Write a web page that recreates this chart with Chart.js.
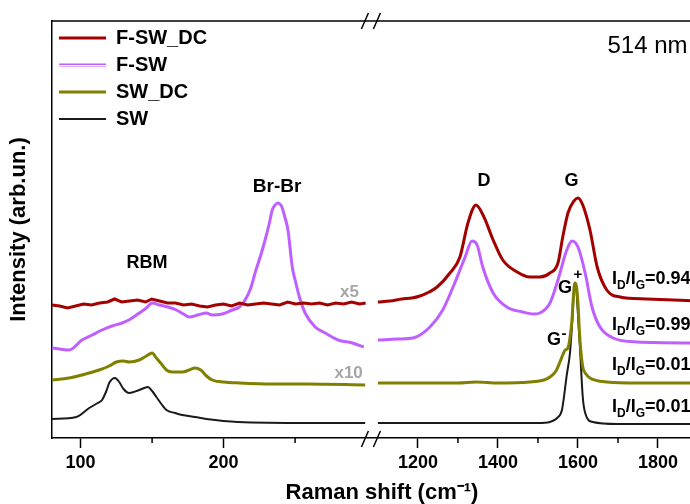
<!DOCTYPE html>
<html>
<head>
<meta charset="utf-8">
<script src="https://cdn.jsdelivr.net/npm/chart.js@4.4.1/dist/chart.umd.min.js"></script>
<style>
  html, body { margin: 0; padding: 0; background: #fff; overflow: hidden; width: 690px; height: 504px; }
  #wrap { width: 720px; height: 504px; }
</style>
</head>
<body>
<div id="wrap"><canvas id="raman" width="720" height="504"></canvas></div>
<script>
// Raman shift (cm-1) and intensity (arb. units)
const fswdcShift = [80, 85.3, 90.9, 96.5, 102.1, 107.7, 113.3, 118.9, 123.8, 128.7, 134.3, 139.9, 145.5, 149.7, 155.2, 160.8, 166.4, 172, 177.6, 183.2,
  188.8, 194.4, 200, 205.6, 211.2, 216.8, 222.4, 228, 233.6, 239.2, 244.8, 250.3, 255.9, 261.5, 267.1, 272.7, 278.3, 283.9, 289.5, 295.1, 299.3,
  1100, 1130, 1160, 1185, 1205, 1228, 1248, 1280, 1305, 1325, 1345, 1365, 1388, 1412, 1448, 1480, 1505, 1530, 1550, 1562, 1575, 1590, 1600,
  1612, 1630, 1648, 1672, 1705, 1772, 1900];
const fswdcInt = [133, 132, 130, 132, 134, 133, 135, 136, 139, 136, 137, 138, 136, 139, 137, 135, 135, 133, 134, 132,
  131, 133, 134, 132, 135, 133, 134, 135, 134, 133, 136, 134, 135, 134, 135, 133, 135, 134, 136, 134, 135,
  136, 137, 139, 140, 142, 146, 151, 165, 181, 215, 233, 221, 198, 178, 166, 161, 161, 165, 175, 201, 225, 237, 240,
  233, 208, 171, 148, 141, 139, 137];

const fswShift = [80, 92, 101, 108, 115, 122, 129, 135, 141, 146, 150, 155, 161, 167, 172, 176, 182, 188, 192, 199,
  206, 211, 215, 219, 222, 226, 229, 232, 234, 236, 238, 240, 241, 243, 245, 248, 250, 253, 257, 264, 271, 280, 290, 298,
  1100, 1150, 1188, 1230, 1262, 1292, 1318, 1335, 1348, 1362, 1388, 1422, 1462, 1490, 1505, 1530, 1550, 1572, 1585, 1600,
  1618, 1635, 1655, 1688, 1748, 1900];
const fswInt = [90, 88, 98, 103, 108, 112, 115, 119, 125, 130, 135, 133, 131, 128, 124, 121, 123, 125, 123, 124,
  128, 131, 138, 150, 165, 183, 198, 215, 228, 233, 235, 233, 230, 220, 208, 171, 158, 141, 125, 111, 105, 98, 95, 91,
  98, 99, 100, 111, 128, 155, 181, 197, 193, 171, 145, 131, 126, 124, 125, 135, 158, 188, 197, 191,
  165, 131, 111, 100, 96, 95];

const swdcShift = [80, 92, 101, 113, 120, 125, 130, 134, 141, 146, 150, 153, 156, 160, 164, 171, 176, 180, 184, 188,
  192, 200, 211, 234, 258, 299,
  1100, 1200, 1300, 1345, 1400, 1480, 1515, 1530, 1545, 1555, 1563, 1568, 1575, 1580, 1585, 1588, 1592, 1596, 1600,
  1603, 1607, 1612, 1620, 1630, 1672, 1750, 1900];
const swdcInt = [58, 60, 63, 68, 72, 76, 77, 76, 78, 82, 85, 80, 75, 68, 66, 66, 68, 70, 68, 62,
  58, 56, 55, 54, 54, 53,
  55, 55, 55, 56, 55, 56, 58, 61, 67, 76, 84, 88, 90, 100, 118, 138, 155, 152, 135,
  111, 88, 71, 64, 60, 56, 55, 55];

const swShift = [80, 97, 106, 112, 115, 118, 120, 124, 127, 130, 134, 141, 147, 150, 153, 157, 160, 166, 171, 180,
  188, 210, 260, 299,
  1100, 1300, 1500, 1530, 1548, 1560, 1565, 1572, 1580, 1586, 1591, 1595, 1599, 1605, 1612, 1618, 1637, 1698, 1900];
const swInt = [19, 21, 30, 35, 38, 47, 55, 60, 56, 49, 45, 48, 51, 47, 41, 33, 28, 25, 23, 21,
  19, 16, 15, 15,
  15, 15, 15, 16, 20, 28, 41, 63, 85, 118, 150, 150, 130, 90, 41, 25, 16, 14, 14];

const majorTicks = [100, 200, 1200, 1400, 1600, 1800];
const minorTicks = [150, 250, 1300, 1500, 1700];
const ratioLabels = ['0.94', '0.99', '0.01', '0.01'];

// the x axis is broken between the RBM window and the D/G window
const LEFT_SEG = [80, 303];
const RIGHT_SEG = [1082.5, 1935];
const LEFT_SHARE = 0.4832;

class BrokenLinearScale extends Chart.LinearScale {
  static id = 'brokenLinear';
  buildTicks() {
    return majorTicks.map(value => ({ value }));
  }
  getPixelForValue(value) {
    let dec;
    if (value <= LEFT_SEG[1]) {
      dec = (value - LEFT_SEG[0]) / (LEFT_SEG[1] - LEFT_SEG[0]) * LEFT_SHARE;
    } else if (value >= RIGHT_SEG[0]) {
      dec = LEFT_SHARE + (value - RIGHT_SEG[0]) / (RIGHT_SEG[1] - RIGHT_SEG[0]) * (1 - LEFT_SHARE);
    } else {
      dec = LEFT_SHARE;
    }
    return this.getPixelForDecimal(dec);
  }
}
Chart.register(BrokenLinearScale);

// build points, with a null point so the line stops at the break
function toPoints(shift, intensity) {
  const pts = [];
  shift.forEach((x, i) => {
    if (i > 0 && shift[i - 1] < LEFT_SEG[1] && x > RIGHT_SEG[0]) pts.push({ x: 700, y: null });
    pts.push({ x, y: intensity[i] });
  });
  return pts;
}

// only one window of a series (left: RBM side, right: D/G side)
function windowPoints(shift, intensity, right) {
  return toPoints(shift, intensity).filter(p => p.y !== null && (right ? p.x > RIGHT_SEG[0] : p.x < LEFT_SEG[1]));
}

Chart.defaults.font.family = "'Liberation Sans', Arial, sans-serif";
Chart.defaults.color = '#000';

function drawText(ctx, text, px, py, size, opts = {}) {
  ctx.font = (opts.weight || 'bold') + ' ' + size + 'px ' + Chart.defaults.font.family;
  ctx.fillStyle = opts.color || '#000';
  ctx.textAlign = opts.align || 'center';
  ctx.textBaseline = 'middle';
  ctx.fillText(text, px, py);
  return ctx.measureText(text).width;
}

// I_D/I_G = value, with subscripts
function drawRatio(ctx, px, py, value) {
  let cx = px;
  cx += drawText(ctx, 'I', cx, py, 18, { align: 'left' });
  cx += drawText(ctx, 'D', cx, py + 7, 12, { align: 'left' });
  cx += drawText(ctx, '/I', cx, py, 18, { align: 'left' });
  cx += drawText(ctx, 'G', cx, py + 7, 12, { align: 'left' });
  drawText(ctx, '=' + value, cx, py, 18, { align: 'left' });
}

const decorations = {
  id: 'decorations',
  afterDraw(chart) {
    const { ctx, chartArea: a, scales: { x, y } } = chart;
    const X = v => x.getPixelForValue(v);
    const Y = v => y.getPixelForValue(v);
    ctx.save();
    ctx.strokeStyle = '#000';
    ctx.lineWidth = 1.5;

    // top frame line
    ctx.beginPath();
    ctx.moveTo(a.left, a.top);
    ctx.lineTo(a.right, a.top);
    ctx.stroke();

    // minor ticks
    minorTicks.forEach(v => {
      ctx.beginPath();
      ctx.moveTo(X(v), a.bottom);
      ctx.lineTo(X(v), a.bottom + 5);
      ctx.stroke();
    });

    // break marks on top and bottom axis
    const bx = X(LEFT_SEG[1]);
    [a.top, a.bottom + 1].forEach(by => {
      [-6, 6].forEach(dx => {
        ctx.beginPath();
        ctx.moveTo(bx + dx - 3.5, by + 8);
        ctx.lineTo(bx + dx + 3.5, by - 8);
        ctx.stroke();
      });
    });

    // F-SW legend sample is a hollow (double) line
    const items = chart.legend.legendItems;
    const pos = items.findIndex(it => it.text === 'F-SW');
    const hit = chart.legend.legendHitBoxes[pos];
    if (hit) {
      const cy = Math.round(hit.top + 10) + 0.5;
      ctx.strokeStyle = '#fff';
      ctx.lineWidth = 1;
      ctx.beginPath();
      ctx.moveTo(hit.left, cy);
      ctx.lineTo(hit.left + 47, cy);
      ctx.stroke();
    }

    // peak labels
    drawText(ctx, 'RBM', X(146.5), Y(174.5), 18);
    drawText(ctx, 'Br-Br', X(237.4), Y(251.5), 19);
    drawText(ctx, 'D', X(1365), Y(257), 18);
    drawText(ctx, 'G', X(1584), Y(257), 18);
    drawText(ctx, 'G', X(1567.5), Y(150), 18);
    drawText(ctx, '+', X(1600), Y(163), 15);
    drawText(ctx, 'G', X(1540), Y(98), 18);
    drawText(ctx, '-', X(1565), Y(104), 15);
    drawText(ctx, 'x5', X(288), Y(146), 17, { color: '#a6a6a6' });
    drawText(ctx, 'x10', X(287.4), Y(64.5), 17, { color: '#a6a6a6' });
    drawText(ctx, '514 nm', X(1773.75), Y(392), 24, { weight: 'normal' });

    const ratioY = [159, 113, 73, 31];
    ratioLabels.forEach((r, i) => drawRatio(ctx, X(1685), Y(ratioY[i]), r));
    ctx.restore();
  }
};

new Chart(document.getElementById('raman'), {
  type: 'line',
  data: {
    datasets: [
      {
        // noisy RBM window, drawn straight point to point
        label: 'F-SW_DC',
        data: windowPoints(fswdcShift, fswdcInt, false),
        borderColor: '#a30000',
        borderWidth: 3,
        cubicInterpolationMode: 'default',
        tension: 0,
        order: 0
      },
      {
        label: 'F-SW',
        data: toPoints(fswShift, fswInt),
        borderColor: '#bf5fff',
        borderWidth: 3,
        order: 2
      },
      {
        label: 'SW_DC',
        data: toPoints(swdcShift, swdcInt),
        borderColor: '#808000',
        borderWidth: 3,
        order: 1
      },
      {
        label: 'SW',
        data: toPoints(swShift, swInt),
        borderColor: '#1a1a1a',
        borderWidth: 2,
        order: 3
      },
      {
        // D/G window of F-SW_DC (same series, kept out of the legend)
        label: 'F-SW_DC (D/G)',
        data: windowPoints(fswdcShift, fswdcInt, true),
        borderColor: '#a30000',
        borderWidth: 3,
        order: 0
      }
    ]
  },
  options: {
    responsive: false,
    animation: false,
    events: [],
    spanGaps: false,
    elements: {
      point: { radius: 0 },
      line: { cubicInterpolationMode: 'monotone', fill: false }
    },
    layout: {
      padding: { top: 21, right: 8, left: 0, bottom: 0 }
    },
    plugins: {
      tooltip: { enabled: false },
      legend: {
        position: 'chartArea',
        align: 'start',
        title: {
          display: true,
          text: '',
          font: { size: 1, lineHeight: 1 },
          padding: { top: 20, bottom: 0 }
        },
        labels: {
          usePointStyle: true,
          pointStyle: 'line',
          pointStyleWidth: 47,
          padding: 7,
          color: '#000',
          font: { size: 20, weight: 'bold' },
          filter: item => item.datasetIndex < 4,
          sort: (a, b) => a.datasetIndex - b.datasetIndex
        }
      }
    },
    scales: {
      x: {
        type: 'brokenLinear',
        min: 80,
        max: 1935,
        afterFit(scale) { scale.height = 66; },
        border: { display: true, color: '#000', width: 1.5 },
        grid: {
          display: true,
          drawOnChartArea: false,
          drawTicks: true,
          tickLength: 10,
          tickColor: '#000',
          tickWidth: 1.5
        },
        ticks: {
          padding: 4,
          maxRotation: 0,
          autoSkip: false,
          color: '#000',
          font: { size: 18, weight: 'bold' },
          callback: v => String(v)
        },
        title: {
          display: true,
          text: 'Raman shift (cm\u207B\u00B9)',
          color: '#000',
          font: { size: 22, weight: 'bold', lineHeight: 1 },
          padding: { top: 0, bottom: 0 }
        }
      },
      y: {
        min: 0,
        max: 417,
        afterFit(scale) { scale.width = 52; },
        border: { display: true, color: '#000', width: 1.5 },
        grid: { display: false, drawTicks: false },
        ticks: { display: false },
        title: {
          display: true,
          text: 'Intensity (arb.un.)',
          color: '#000',
          font: { size: 22, weight: 'bold', lineHeight: 1 },
          padding: { top: 8, bottom: 0 }
        }
      }
    }
  },
  plugins: [decorations]
});
</script>
</body>
</html>
